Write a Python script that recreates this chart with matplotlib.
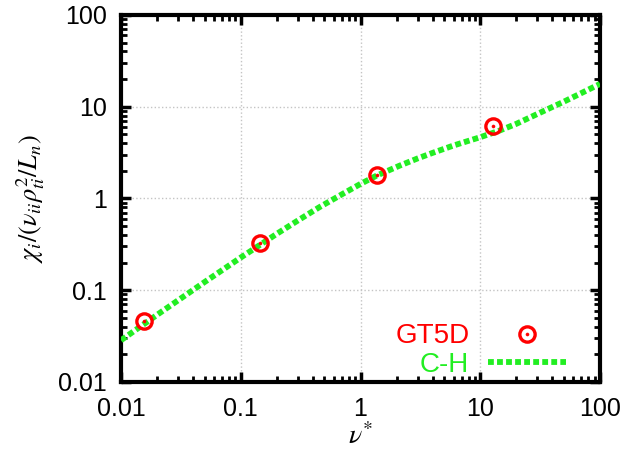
import matplotlib
matplotlib.use("Agg")
import matplotlib.pyplot as plt
from matplotlib.ticker import LogLocator, FixedLocator, FixedFormatter, NullFormatter

# GT5D simulation points
gt5d_x = [0.0156, 0.145, 1.37, 12.7]
gt5d_y = [0.0464, 0.328, 1.81, 6.18]

# Chang-Hinton curve
ch_x = [0.01, 0.0211, 0.05, 0.1, 0.147, 0.2, 0.31, 0.455, 0.7, 1.0, 1.36, 2.11, 3.0,
        3.98, 6.0, 10.0, 14.4, 20.0, 35.3, 50.0, 100.0]
ch_y = [0.0285, 0.0566, 0.123, 0.227, 0.316, 0.412, 0.591, 0.805, 1.11, 1.44, 1.77, 2.27, 2.73,
        3.13, 3.78, 4.65, 5.47, 6.5, 9.2, 11.35, 17.7]

xticks = [0.01, 0.1, 1, 10, 100]
xticklabels = ["0.01", "0.1", "1", "10", "100"]
yticks = [0.01, 0.1, 1, 10, 100]
yticklabels = ["0.01", "0.1", "1", "10", "100"]

plt.rcParams['font.family'] = ['Liberation Sans', 'DejaVu Sans']
plt.rcParams['mathtext.fontset'] = 'stix'

fig = plt.figure(figsize=(6.27, 4.51), dpi=100)
ax = fig.add_axes([0.193, 0.153, 0.764, 0.814])

green = '#22ee22'
line, = ax.plot(ch_x, ch_y, color=green, lw=4.2, linestyle=(0, (1.0, 0.55)),
                dash_capstyle='butt', label='C-H', zorder=3)
circ, = ax.plot(gt5d_x, gt5d_y, linestyle='none', marker='o', ms=11, mfc='none',
                mec='red', mew=2.4, zorder=4)
dot, = ax.plot(gt5d_x, gt5d_y, linestyle='none', marker='o', ms=2.2, mfc='red',
               mec='red', mew=0.4, zorder=4)

ax.set_xscale('log')
ax.set_yscale('log')
ax.set_xlim(0.01, 100)
ax.set_ylim(0.01, 100)

ax.xaxis.set_major_locator(FixedLocator(xticks))
ax.xaxis.set_major_formatter(FixedFormatter(xticklabels))
ax.yaxis.set_major_locator(FixedLocator(yticks))
ax.yaxis.set_major_formatter(FixedFormatter(yticklabels))
ax.xaxis.set_minor_locator(LogLocator(base=10, subs=range(2, 10)))
ax.yaxis.set_minor_locator(LogLocator(base=10, subs=range(2, 10)))
ax.xaxis.set_minor_formatter(NullFormatter())
ax.yaxis.set_minor_formatter(NullFormatter())

ax.tick_params(which='both', direction='in', top=True, right=True, colors='black')
ax.tick_params(which='major', length=7, width=2.5, labelsize=18)
ax.tick_params(which='minor', length=4, width=2)
ax.tick_params(axis='x', which='major', pad=11)
ax.tick_params(axis='y', which='major', pad=10)

for s in ax.spines.values():
    s.set_linewidth(3)

ax.grid(True, which='major', color='#c4c4c4', linestyle=':', linewidth=1)

ax.set_xlabel(r'$\nu^{*}$', fontsize=20, labelpad=1)
ax.set_ylabel(r'$\chi_i/(\nu_{ii}\rho_{ti}^{2}/L_n)$', fontsize=19, labelpad=8)

leg = fig.legend([(circ, dot), line], ['GT5D', 'C-H'], loc='lower right',
                 bbox_to_anchor=(566 / 627, (451 - 378) / 451),
                 bbox_transform=fig.transFigure,
                 markerfirst=False, frameon=False, borderpad=0.0, borderaxespad=0.0,
                 fontsize=20, handlelength=2.8, handletextpad=0.68, labelspacing=0.1)
for t, c in zip(leg.get_texts(), ['red', green]):
    t.set_color(c)

fig.savefig('out.png', dpi=100)
